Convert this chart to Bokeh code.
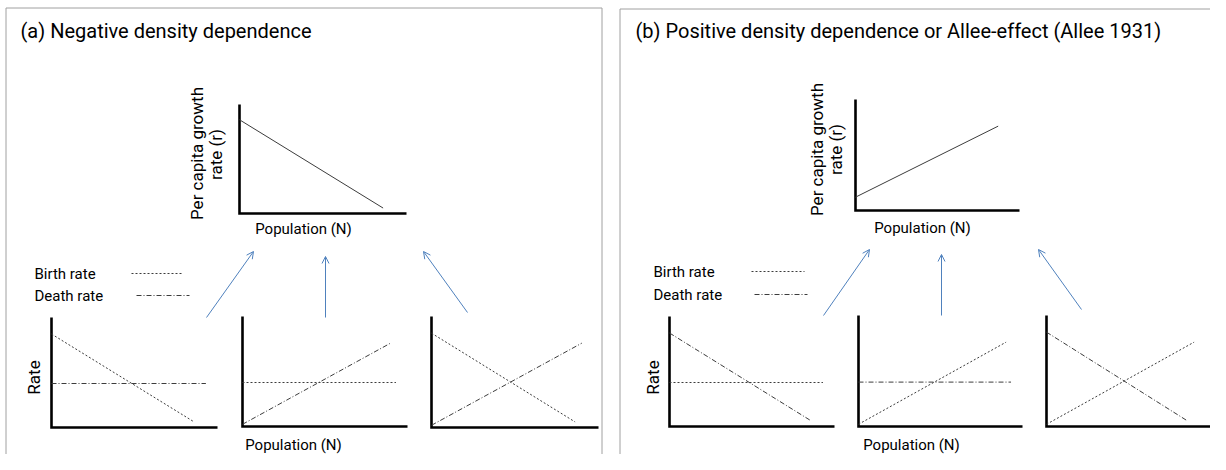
import math
from bokeh.plotting import figure
from bokeh.models import Range1d, Arrow, OpenHead
from bokeh.core.properties import value
from bokeh.embed import file_html
from bokeh.resources import INLINE

# ---------------- data (normalised: N and rate as fraction of axis length) ----------------
decline_N = [0.0, 0.86]
decline_rate = [0.85, 0.05]
rise_N = [0.0, 0.90]
rise_rate = [0.02, 0.76]
const_N = [0.0, 0.93]
const_rate = [0.40, 0.40]

growth_a_N = [0.0, 0.86]
growth_a_r = [0.86, 0.05]
growth_b_N = [0.0, 0.87]
growth_b_r = [0.12, 0.76]

# which curve is birth / death in each of the three lower panels
lines = {"decline": (decline_N, decline_rate), "rise": (rise_N, rise_rate), "const": (const_N, const_rate)}
birth_a = ["decline", "const", "decline"]
death_a = ["const", "rise", "rise"]
birth_b = ["const", "rise", "rise"]
death_b = ["decline", "const", "decline"]

title_a = "(a) Negative density dependence"
title_b = "(b) Positive density dependence or Allee-effect (Allee 1931)"
xlabel = "Population (N)"
ylabel_top = ["Per capita growth", "rate (r)"]
ylabel_bottom = "Rate"
legend_labels = ["Birth rate", "Death rate"]

# ---------------- layout (screen-like coordinates) ----------------
W, H = 1210, 454
p = figure(width=W, height=H, x_range=Range1d(0, W), y_range=Range1d(H, 0),
           x_axis_type=None, y_axis_type=None, output_backend="svg",
           toolbar_location=None, min_border=0)
p.grid.visible = False
p.outline_line_color = None
p.background_fill_color = "white"
p.border_fill_color = "white"

FONT = value("Roboto")
INK = "#3c3c3c"
BLUE = "#4f81bd"
BIRTH_DASH = "2 2"
DEATH_DASH = "5 2 1 2"

# boxes: (x of y-axis, y of x-axis, width, height)
top_a = (239, 213, 167, 109)
top_b = (855, 210, 164, 111)
bottom_a = [(51, 427, 166, 110), (242, 426, 165, 110), (431, 427, 167, 111)]
bottom_b = [(669, 426, 165, 110), (858, 426, 164, 111), (1046, 426, 164, 111)]


def map_xy(box, xs, ys):
    return [box[0] + v * box[2] for v in xs], [box[1] - v * box[3] for v in ys]


def draw_axes(box):
    x0, y0, w, h = box
    p.line([x0, x0, x0 + w], [y0 - h, y0, y0], line_color="black", line_width=2.6,
           line_join="miter")


# panel borders
for xs, ys in [([5.5, 5.5, 601.5, 601.5], [460, 7.5, 7.5, 460]),
               ([619.5, 619.5, 1215], [460, 8.5, 8.5])]:
    p.line(xs, ys, line_color="#a0a0a0", line_width=1)

# top growth-rate plots
for box, gN, gr in [(top_a, growth_a_N, growth_a_r), (top_b, growth_b_N, growth_b_r)]:
    draw_axes(box)
    xs, ys = map_xy(box, gN, gr)
    p.line(xs, ys, line_color=INK, line_width=1)

# bottom birth/death plots
for boxes, births, deaths in [(bottom_a, birth_a, death_a), (bottom_b, birth_b, death_b)]:
    for box, b, d in zip(boxes, births, deaths):
        draw_axes(box)
        xs, ys = map_xy(box, *lines[b])
        p.line(xs, ys, line_color=INK, line_width=1, line_dash=BIRTH_DASH)
        xs, ys = map_xy(box, *lines[d])
        p.line(xs, ys, line_color=INK, line_width=1, line_dash=DEATH_DASH)

# legends
for tx, bx, dx, by, dy in [(34, (131, 183), (136, 189), 273, 295),
                           (653, (751, 804), (754, 807), 271, 294)]:
    p.text(x=[tx, tx], y=[by, dy], text=legend_labels, text_font=FONT,
           text_font_size="15px", text_baseline="middle", text_align="left",
           text_color="black")
    p.line(list(bx), [by, by], line_color=INK, line_width=1, line_dash=BIRTH_DASH)
    p.line(list(dx), [dy, dy], line_color=INK, line_width=1, line_dash=DEATH_DASH)

# arrows
arrows = [((206, 317), (253, 251)), ((325, 317), (325, 256)), ((467, 312), (423, 251)),
          ((823, 315), (869, 249)), ((941, 315), (941, 254)), ((1081, 309), (1038, 249))]
for (x1, y1), (x2, y2) in arrows:
    p.add_layout(Arrow(x_start=x1, y_start=y1, x_end=x2, y_end=y2,
                       line_color=BLUE, line_width=1,
                       end=OpenHead(size=7, line_color=BLUE, line_width=1)))

# titles
p.text(x=[20, 635], y=[30, 30], text=[title_a, title_b], text_font=FONT,
       text_font_size="20px", text_baseline="middle", text_align="left", text_color="black")

# x labels
p.text(x=[303, 922, 293, 911], y=[228, 227, 444, 444], text=[xlabel] * 4, text_font=FONT,
       text_font_size="15px", text_baseline="middle", text_align="center", text_color="black")

# rotated y labels
p.text(x=[196, 215, 816, 835], y=[153, 154, 149, 149],
       text=[ylabel_top[0], ylabel_top[1], ylabel_top[0], ylabel_top[1]],
       angle=math.pi / 2, text_font=FONT, text_font_size="17px",
       text_baseline="middle", text_align="center", text_color="black")
p.text(x=[33, 652], y=[377, 377], text=[ylabel_bottom] * 2, angle=math.pi / 2,
       text_font=FONT, text_font_size="17px", text_baseline="middle",
       text_align="center", text_color="black")

open("out.html", "w").write(file_html(p, INLINE))
